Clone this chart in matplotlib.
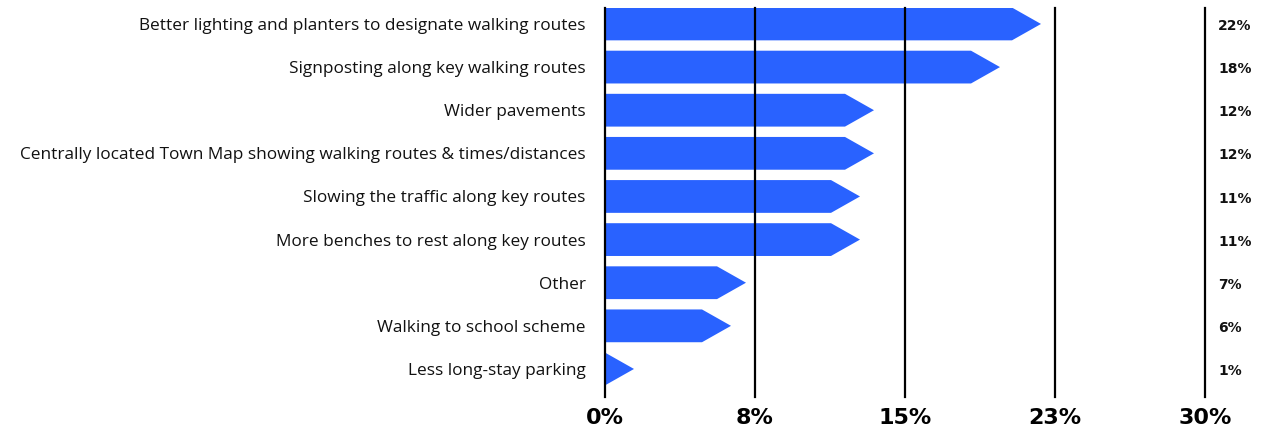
import matplotlib
matplotlib.use('Agg')
import matplotlib.pyplot as plt
from matplotlib.patches import Polygon

# ─── Data ──────────────────────────────────────────────────────────────────
categories = [
    'Better lighting and planters to designate walking routes',
    'Signposting along key walking routes',
    'Wider pavements',
    'Centrally located Town Map showing walking routes & times/distances',
    'Slowing the traffic along key routes',
    'More benches to rest along key routes',
    'Other',
    'Walking to school scheme',
    'Less long-stay parking',
]
share_pct = [22, 18, 12, 12, 11, 11, 7, 6, 1]          # printed labels
bar_pct = [20.35, 18.3, 12.0, 12.0, 11.3, 11.3, 5.6, 4.85, 0.0]  # drawn body length
ticks = [0, 7.5, 15, 22.5, 30]
tick_labels = ['0%', '8%', '15%', '23%', '30%']

BLUE = '#2962FF'
TIP = 1.45
BAR_H = 0.76

fig = plt.figure(figsize=(12.81, 4.30), dpi=100)
ax = fig.add_axes([605 / 1281, 1 - 397 / 430, 600 / 1281, 389 / 430])
ax.set_xlim(0, 30)
ax.set_ylim(len(categories) - 1 + 0.65, -0.37)

for i, length in enumerate(bar_pct):
    top, bot = i - BAR_H / 2, i + BAR_H / 2
    pts = [(0, top), (length, top), (length + TIP, i), (length, bot), (0, bot)]
    ax.add_patch(Polygon(pts, closed=True, facecolor=BLUE, edgecolor='none', zorder=2))

for t in ticks:
    ax.axvline(t, color='black', lw=1.6, zorder=3, clip_on=False)

for i, v in enumerate(share_pct):
    ax.text(30.65, i + 0.05, f'{v}%', ha='left', va='center', fontsize=10,
            fontweight='bold', family='DejaVu Sans', color='#111111')

ax.set_yticks(range(len(categories)))
ax.set_yticklabels(categories, fontsize=12.4, family=['Open Sans', 'DejaVu Sans'],
                   color='#111111')
ax.set_xticks(ticks)
ax.set_xticklabels(tick_labels, fontsize=16, fontweight='bold', family='DejaVu Sans')
ax.tick_params(axis='both', length=0)
ax.tick_params(axis='y', pad=14)
ax.tick_params(axis='x', pad=8)
for s in ax.spines.values():
    s.set_visible(False)

fig.savefig('out.png', dpi=100, facecolor='white')
